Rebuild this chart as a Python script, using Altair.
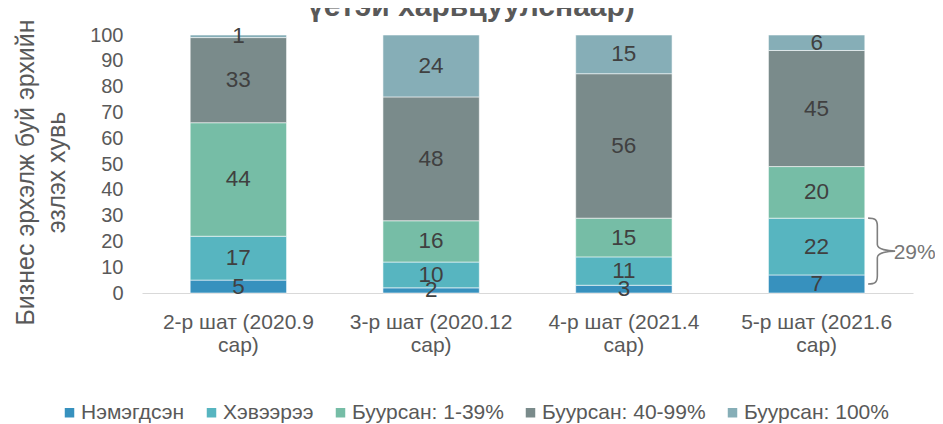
import altair as alt
import pandas as pd

categories = ["2-р шат (2020.9 сар)", "3-р шат (2020.12 сар)", "4-р шат (2021.4 сар)", "5-р шат (2021.6 сар)"]
series = ["Нэмэгдсэн", "Хэвээрээ", "Буурсан: 1-39%", "Буурсан: 40-99%", "Буурсан: 100%"]
colors = ["#3791BE", "#57B5C0", "#76BDA6", "#7A8B8B", "#86AEB7"]

nemegdsen = [5, 2, 3, 7]
hevee = [17, 10, 11, 22]
buur_1_39 = [44, 16, 15, 20]
buur_40_99 = [33, 48, 56, 45]
buur_100 = [1, 24, 15, 6]

title_text = "үетэй харьцуулснаар)"
y_title = ["Бизнес эрхэлж буй эрхийн", "эзлэх хувь"]
y_ticks = [0, 10, 20, 30, 40, 50, 60, 70, 80, 90, 100]

FONT = "Liberation Sans"
GRAY = "#595959"

rows = []
for si, (name, vals) in enumerate(zip(series, [nemegdsen, hevee, buur_1_39, buur_40_99, buur_100])):
    for ci, cat in enumerate(categories):
        rows.append({"cat": cat, "series": name, "idx": si, "value": vals[ci]})
df = pd.DataFrame(rows)

brace_df = pd.DataFrame([{
    "cat": categories[-1],
    "lo": nemegdsen[-1] / 2,
    "hi": nemegdsen[-1] + hevee[-1],
    "total": nemegdsen[-1] + hevee[-1],
}])

x_axis = alt.Axis(
    title=None,
    labelAngle=0,
    labelFontSize=21,
    labelColor=GRAY,
    labelFont=FONT,
    labelLineHeight=23.5,
    labelPadding=18,
    labelBaseline="top",
    labelLimit=300,
    labelExpr="[slice(datum.label, 0, lastindexof(datum.label, ' ')), slice(datum.label, lastindexof(datum.label, ' ') + 1)]",
    ticks=False,
    tickSize=0,
    domainColor="#D9D9D9",
    domainWidth=1,
    grid=False,
)
x_scale = alt.Scale(paddingInner=0.5, paddingOuter=0.25)

y_axis = alt.Axis(
    values=y_ticks,
    labelOverlap=False,
    title=y_title,
    titleFontSize=25,
    titleFontWeight="normal",
    titleColor=GRAY,
    titleFont=FONT,
    titleLineHeight=31,
    titleAngle=270,
    titleX=-109,
    titleY=137,
    titleAlign="center",
    titleBaseline="alphabetic",
    labelFontSize=20,
    labelColor=GRAY,
    labelFont=FONT,
    labelPadding=19,
    ticks=False,
    tickSize=0,
    domain=False,
    grid=False,
)
y_scale = alt.Scale(domain=[0, 100], nice=False)


def xe():
    return alt.X("cat:N", sort=categories, scale=x_scale, axis=x_axis)


def ye(field):
    return alt.Y(field, scale=y_scale, axis=y_axis)


base = alt.Chart(df).transform_stack(
    stack="value",
    groupby=["cat"],
    as_=["y0", "y1"],
    sort=[alt.SortField("idx", order="ascending")],
).transform_calculate(mid="(datum.y0 + datum.y1) / 2")

bars = base.mark_bar(stroke="#ffffff", strokeWidth=0.8, strokeOpacity=0.7).encode(
    x=xe(),
    y=ye("y0:Q"),
    y2="y1:Q",
    color=alt.Color(
        "series:N",
        scale=alt.Scale(domain=series, range=colors),
        legend=alt.Legend(
            title=None,
            orient="none",
            direction="horizontal",
            legendX=-83,
            legendY=367,
            symbolType="square",
            symbolSize=90,
            symbolStrokeWidth=0,
            labelFontSize=21,
            labelColor=GRAY,
            labelFont=FONT,
            labelOffset=1,
            labelLimit=400,
            columnPadding=16,
            padding=0,
        ),
    ),
)

labels = base.mark_text(fontSize=22.5, color="#404040", font=FONT, baseline="middle").encode(
    x=xe(),
    y=ye("mid:Q"),
    text="value:Q",
)

brace_path = (
    "M -0.41 -1 C -0.2 -1 -0.13 -0.95 -0.13 -0.75 L -0.13 -0.2 "
    "C -0.13 -0.05 0.2 0 0.41 0 C 0.2 0 -0.13 0.05 -0.13 0.2 "
    "L -0.13 0.75 C -0.13 0.95 -0.2 1 -0.41 1"
)

brace_base = alt.Chart(brace_df).transform_calculate(
    ymid="(datum.lo + datum.hi) / 2",
    lbl="datum.total + '%'",
)

brace = brace_base.mark_point(
    shape=brace_path, filled=False, stroke="#7F7F7F", strokeWidth=1.6, size=4356, xOffset=65, opacity=1
).encode(
    x=xe(),
    y=ye("ymid:Q"),
)

brace_label = brace_base.mark_text(
    fontSize=21, color="#767676", font=FONT, align="left", baseline="middle", xOffset=77, dy=2
).encode(
    x=xe(),
    y=ye("ymid:Q"),
    text="lbl:N",
)

title_mark = alt.Chart(pd.DataFrame({"t": [title_text]})).mark_text(
    fontSize=30, fontWeight="bold", color=GRAY, font=FONT, align="center", baseline="alphabetic"
).encode(
    x=alt.value(329),
    y=alt.value(-19),
    text="t:N",
)

chart = alt.layer(bars, labels, brace, brace_label, title_mark).properties(
    width=771,
    height=258,
    autosize=alt.AutoSizeParams(type="none"),
    padding={"left": 134, "top": 27, "right": 22, "bottom": 131},
).configure(background="#ffffff", font=FONT).configure_view(stroke="transparent", strokeWidth=0)

chart.save("out.html", embed_options={"renderer": "svg", "actions": False})
